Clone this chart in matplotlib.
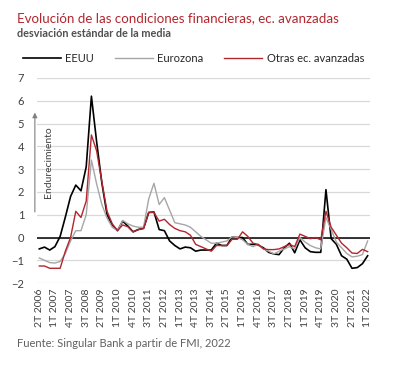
import matplotlib
matplotlib.use('Agg')
import matplotlib.pyplot as plt
import numpy as np

plt.rcParams['font.family'] = ['Lato', 'DejaVu Sans']

# quarters 2T 2006 .. 1T 2022
quarters = []
for y in range(2006, 2023):
    for q in range(1, 5):
        if (y == 2006 and q == 1) or (y == 2022 and q > 1):
            continue
        quarters.append('%dT %d' % (q, y))

eeuu = [-0.5, -0.42, -0.55, -0.4, 0.05, 0.9, 1.8, 2.3, 2.05, 3.1,
        6.2, 4.2, 2.4, 1.0, 0.55, 0.3, 0.72, 0.5, 0.25, 0.35,
        0.4, 1.1, 1.12, 0.35, 0.3, -0.15, -0.35, -0.5, -0.42, -0.45,
        -0.6, -0.55, -0.55, -0.55, -0.25, -0.35, -0.35, 0.02, 0.0, 0.0,
        -0.3, -0.3, -0.33, -0.45, -0.65, -0.72, -0.75, -0.45, -0.25, -0.67,
        -0.1, -0.45, -0.62, -0.65, -0.65, 2.1, -0.05, -0.3, -0.8, -0.95,
        -1.35, -1.32, -1.15, -0.8]
eurozona = [-0.9, -1.0, -1.1, -1.12, -1.05, -0.7, -0.15, 0.3, 0.3, 1.0,
            3.4, 2.35, 1.45, 0.85, 0.45, 0.3, 0.75, 0.6, 0.5, 0.45,
            0.45, 1.7, 2.38, 1.45, 1.75, 1.2, 0.65, 0.6, 0.55, 0.45,
            0.25, 0.05, -0.1, -0.25, -0.25, -0.2, -0.15, 0.03, 0.0, -0.1,
            -0.3, -0.4, -0.3, -0.5, -0.6, -0.72, -0.6, -0.5, -0.4, -0.5,
            0.0, -0.2, -0.35, -0.45, -0.5, 0.88, 0.35, -0.2, -0.45, -0.7,
            -0.85, -0.82, -0.75, -0.15]
otras = [-1.25, -1.25, -1.35, -1.35, -1.35, -0.6, 0.0, 1.15, 0.88, 1.6,
         4.5, 3.8, 2.45, 1.15, 0.6, 0.3, 0.55, 0.47, 0.25, 0.35,
         0.4, 1.1, 1.1, 0.72, 0.8, 0.57, 0.4, 0.3, 0.25, 0.1,
         -0.3, -0.4, -0.5, -0.6, -0.35, -0.35, -0.35, -0.08, -0.08, 0.25,
         0.05, -0.25, -0.3, -0.5, -0.53, -0.53, -0.5, -0.4, -0.3, -0.4,
         0.15, 0.05, -0.05, 0.0, -0.1, 1.15, 0.45, 0.1, -0.25, -0.45,
         -0.68, -0.7, -0.52, -0.62]

x = np.arange(len(quarters))

fig = plt.figure(figsize=(4.05, 3.73), dpi=100)
ax = fig.add_axes([0.0906, 0.241, 0.8236, 0.55])

ax.plot(x, eeuu, color='black', lw=1.2, label='EEUU')
ax.plot(x, eurozona, color='#a6a6a6', lw=1.0, label='Eurozona')
ax.plot(x, otras, color='#b3262e', lw=1.0, label='Otras ec. avanzadas')

ax.axhline(0, color='black', lw=1.1, zorder=1)
ax.set_ylim(-2, 7)
ax.set_xlim(-0.5, len(quarters) - 0.5)
ax.set_yticks(range(-2, 8))
ax.yaxis.grid(True, color='#d9d9d9', lw=0.9)
ax.set_axisbelow(True)
for s in ax.spines.values():
    s.set_visible(False)
ax.tick_params(axis='y', length=0, labelsize=8, labelcolor='#404040', pad=9)
ax.set_xticks(x[::3])
ax.set_xticklabels(quarters[::3], rotation=90, fontsize=7.5, color='#404040')
ax.tick_params(axis='x', length=0, pad=4)

ax.annotate('', xy=(-0.85, 5.6), xytext=(-0.85, 1.0),
            arrowprops=dict(arrowstyle='-|>', color='#808080', lw=0.8,
                            mutation_scale=7),
            annotation_clip=False)
ax.text(1.7, 3.3, 'Endurecimiento', rotation=90, ha='center', va='center',
        fontsize=7.5, color='#404040')

leg = ax.legend(loc='lower center', bbox_to_anchor=(0.47, 1.02), ncol=3,
                frameon=False, fontsize=8, handlelength=3.4,
                columnspacing=1.9, handletextpad=0.4)
for t in leg.get_texts():
    t.set_color('#262626')

fig.text(0.042, 0.952, 'Evolución de las condiciones financieras, ec. avanzadas',
         fontsize=9.6, color='#b3262e', va='center')
fig.text(0.042, 0.91, 'desviación estándar de la media', fontsize=7.8,
         color='#505050', fontweight='bold', va='center')
fig.text(0.042, 0.078, 'Fuente: Singular Bank a partir de FMI, 2022',
         fontsize=8, color='#606060', va='center')

fig.savefig('out.png', dpi=100)
